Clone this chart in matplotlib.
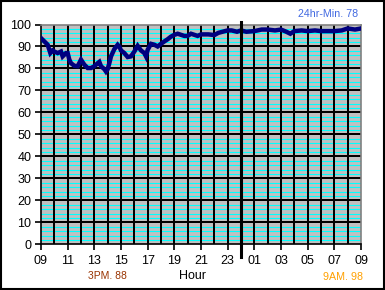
import matplotlib
matplotlib.use("Agg")
import matplotlib.pyplot as plt
from matplotlib.patches import Rectangle

plt.rcParams['font.family'] = ['Liberation Sans', 'DejaVu Sans']

# hours elapsed since 09:00
hours = [0.0, 0.25, 0.5, 0.7, 0.875, 1.0, 1.25, 1.5, 1.625, 1.875, 2.0, 2.125,
         2.25, 2.5, 2.75, 3.0, 3.25, 3.5, 3.75, 4.0, 4.25, 4.375, 4.5, 4.75,
         4.875, 5.0, 5.125, 5.25, 5.5, 5.75, 5.875, 6.0, 6.25, 6.5, 6.75, 7.0,
         7.25, 7.5, 7.75, 7.875, 8.0, 8.25, 8.5, 8.75, 9.0, 9.25, 9.5, 9.75,
         10.0, 10.25, 10.5, 10.75, 11.0, 11.25, 11.5, 11.75, 12.0, 12.55, 13.0,
         13.3, 13.8, 14.0, 14.3, 14.7, 15.0, 15.4, 16.0, 16.55, 17.0, 17.55,
         18.0, 18.4, 18.7, 19.0, 19.55, 20.0, 20.55, 21.0, 21.55, 22.0, 22.55,
         23.0, 23.55, 24.0]
humidity = [93.8, 92.3, 90.8, 87.0, 88.2, 87.7, 87.0, 87.7, 85.5, 87.0, 87.0, 84.0,
            82.4, 81.2, 81.0, 84.0, 81.7, 80.2, 80.2, 81.0, 82.4, 83.0, 81.0, 79.7,
            78.6, 79.7, 82.4, 85.5, 88.8, 90.8, 90.0, 88.2, 87.0, 85.2, 85.5, 87.7,
            90.3, 88.2, 87.0, 85.5, 88.5, 91.2, 90.8, 90.0, 91.2, 92.3, 93.3, 94.5,
            95.3, 95.8, 95.3, 94.8, 94.8, 95.8, 95.3, 94.8, 95.5, 95.5, 95.2,
            96.2, 97.0, 97.3, 97.3, 96.7, 97.3, 96.7, 97.0, 97.7, 97.7, 97.3,
            97.7, 96.7, 95.8, 97.0, 97.3, 97.0, 97.3, 97.0, 97.0, 97.0, 97.3,
            98.2, 97.7, 98.2]

xtick_pos = list(range(0, 25, 2))
xtick_labels = ['09', '11', '13', '15', '17', '19', '21', '23', '01', '03', '05', '07', '09']
ytick_pos = list(range(0, 101, 10))
midnight = 15

W, H = 385, 290
fig = plt.figure(figsize=(W / 100, H / 100), dpi=100)
ax = fig.add_axes([41 / W, 1 - 244.3 / H, 320 / W, 219.8 / H])
ax.set_facecolor('#C0C0C0')
ax.set_xlim(0, 24)
ax.set_ylim(0, 100)

# cyan minor lines
for v in range(2, 100, 2):
    if v % 10 != 0:
        ax.axhline(v, color='#00FFFF', lw=0.8, zorder=1)
# black major lines
for v in range(10, 100, 10):
    ax.axhline(v, color='black', lw=1.2, zorder=2, antialiased=False)
for h in range(1, 24):
    if h != midnight:
        ax.axvline(h, color='black', lw=1.2, zorder=2, antialiased=False)

ax.plot(hours, humidity, color='#000080', lw=3.2, zorder=4,
        solid_joinstyle='miter')

# midnight divider extends below the axis
ax.plot([midnight, midnight], [101, -6], color='black', lw=2.2, zorder=5,
        clip_on=False)

ax.set_xticks(xtick_pos)
ax.set_xticklabels(xtick_labels)
ax.set_yticks(ytick_pos)
ax.tick_params(axis='both', direction='out', length=4, width=1.2, color='black',
               labelsize=9, pad=3)
ax.tick_params(axis='x', pad=4)

for s in ['top', 'right']:
    ax.spines[s].set_color('#808080')
    ax.spines[s].set_linewidth(1.2)
for s in ['left', 'bottom']:
    ax.spines[s].set_color('black')
    ax.spines[s].set_linewidth(1.2)

fig.text(358 / W, 1 - 14 / H, '24hr-Min. 78', color='#4169E1', fontsize=7.7,
         ha='right', va='center')
fig.text(107 / W, 1 - 276 / H, '3PM. 88', color='#993300', fontsize=7.5,
         ha='center', va='center')
fig.text(193 / W, 1 - 276 / H, 'Hour', color='black', fontsize=9,
         ha='center', va='center')
fig.text(343 / W, 1 - 277 / H, '9AM. 98', color='#FFA000', fontsize=7.7,
         ha='center', va='center')

fig.patches.append(Rectangle((0.5 / W, 1 / H), (W - 1.5) / W, (H - 1.8) / H,
                             transform=fig.transFigure, fill=False,
                             edgecolor='black', lw=1.5))

fig.savefig('out.png', dpi=100, facecolor='white')
